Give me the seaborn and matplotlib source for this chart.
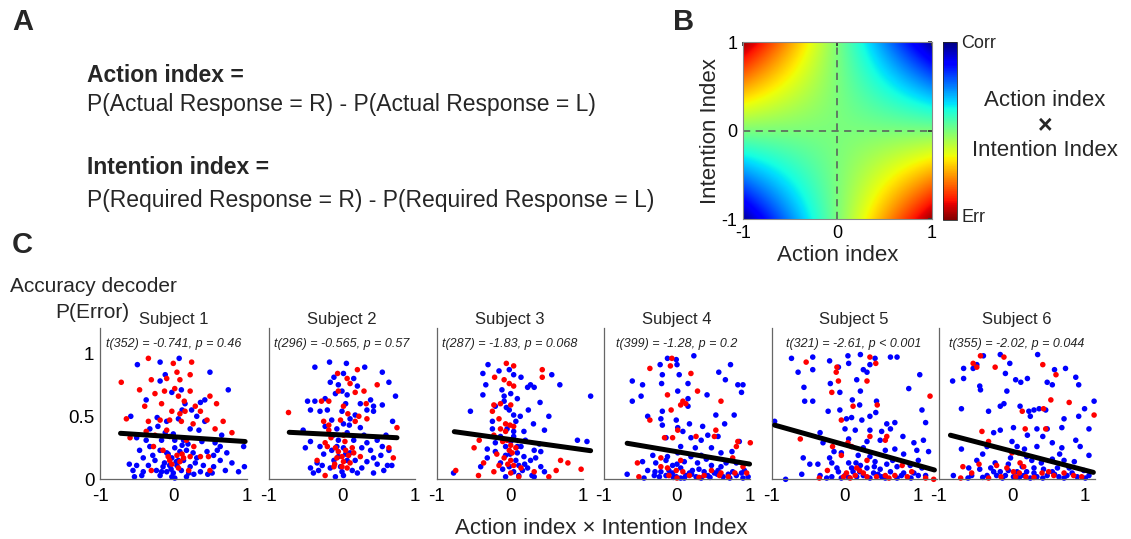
import numpy as np
import pandas as pd
import matplotlib
matplotlib.use('Agg')
import matplotlib.pyplot as plt
import seaborn as sns

W, H = 1131, 539

# --- panel C data: (action x intention, P(error)) ---
S1_BLUE = [(-0.49,0.91),(-0.18,0.93),(0.08,0.96),(-0.11,0.83),(0.50,0.85),(0.75,0.71),(-0.18,0.78),(-0.02,0.69),
           (0.11,0.71),(-0.37,0.63),(0.16,0.60),(0.37,0.61),(0.43,0.63),(0.25,0.55),(-0.58,0.50),(-0.21,0.42),
           (-0.09,0.46),(0.07,0.48),(0.32,0.50),(0.43,0.46),(-0.32,0.40),(-0.50,0.33),(-0.37,0.31),(-0.16,0.31),
           (-0.05,0.34),(0.14,0.31),(0.39,0.30),(0.57,0.29),(0.64,0.26),(0.96,0.26),(-0.46,0.23),(-0.32,0.26),
           (-0.18,0.23),(-0.09,0.21),(0.02,0.25),(0.09,0.22),(0.18,0.23),(0.27,0.21),(0.46,0.22),(0.55,0.19),
           (0.73,0.21),(-0.41,0.17),(-0.25,0.15),(-0.02,0.17),(0.14,0.15),(0.32,0.17),(0.64,0.15),(0.80,0.13),
           (-0.50,0.11),(-0.34,0.11),(-0.14,0.10),(0.05,0.11),(0.23,0.10),(0.41,0.11),(0.55,0.10),(0.97,0.10),
           (-0.55,0.07),(-0.41,0.06),(-0.23,0.07),(-0.09,0.06),(0.0,0.05),(0.11,0.07),(0.21,0.05),(0.37,0.06),
           (0.53,0.05),(0.71,0.07),(0.89,0.06),(-0.53,0.02),(-0.18,0.03),(-0.02,0.02),(0.02,0.01),(0.18,0.02),
           (-0.16,0.06),(-0.05,0.11),(0.07,0.15),(0.02,0.31),(-0.11,0.37),(0.23,0.40),
           (-0.03,0.08),(0.04,0.14),(-0.07,0.20),(0.12,0.27),(0.30,0.13),(-0.28,0.19),(0.20,0.28),(0.60,0.23),
           (-0.43,0.03),(0.47,0.04),(0.28,0.04),(-0.12,0.13),(0.0,0.36),(-0.22,0.49),(0.12,0.55),(0.35,0.39),
           (0.66,0.35),(-0.60,0.12)]
S1_RED = [(-0.34,0.96),(-0.71,0.77),(0.0,0.92),(0.25,0.93),(0.05,0.85),(-0.09,0.80),(0.09,0.79),(-0.30,0.79),
          (0.23,0.83),(-0.46,0.71),(-0.25,0.68),(0.02,0.72),(0.07,0.66),(0.23,0.70),(0.50,0.66),(0.59,0.60),
          (-0.39,0.58),(-0.16,0.60),(-0.02,0.54),(0.09,0.52),(0.16,0.54),(0.37,0.54),(0.46,0.47),(0.68,0.46),
          (-0.64,0.48),(-0.34,0.46),(-0.05,0.47),(0.11,0.46),(0.27,0.44),(0.57,0.40),(0.80,0.37),(-0.37,0.38),
          (-0.25,0.35),(-0.09,0.39),(-0.59,0.33),(0.18,0.31),(-0.27,0.26),(-0.07,0.18),(0.05,0.19),(0.14,0.17),
          (-0.05,0.15),(0.09,0.14),(0.23,0.18),(0.48,0.18),(-0.14,0.23),(0.37,0.18),(-0.30,0.07),(0.21,0.07),
          (0.07,0.09),(0.50,0.07),(-0.02,0.12),(0.12,0.20),(0.28,0.26),(-0.18,0.47),(0.30,0.58),(-0.12,0.70),
          (0.15,0.62)]

S2_BLUE = [(-0.17,0.93),(-0.37,0.89),(0.06,0.92),(0.31,0.89),(0.55,0.85),(0.02,0.84),(-0.11,0.81),(0.16,0.80),
           (-0.16,0.77),(-0.05,0.75),(0.21,0.74),(0.64,0.77),(0.73,0.66),(-0.47,0.62),(-0.37,0.62),(-0.23,0.64),
           (-0.09,0.68),(0.07,0.67),(0.05,0.60),(0.39,0.63),(0.43,0.58),(0.55,0.59),(-0.43,0.55),(-0.30,0.54),
           (0.0,0.54),(0.18,0.51),(0.34,0.55),(0.43,0.54),(-0.14,0.47),(0.11,0.48),(0.69,0.46),(-0.53,0.39),
           (-0.23,0.42),(-0.07,0.40),(0.02,0.44),(0.25,0.41),(0.07,0.37),(0.16,0.31),(-0.05,0.31),(0.34,0.29),
           (0.48,0.31),(0.55,0.26),(-0.43,0.30),(-0.30,0.26),(-0.14,0.23),(-0.07,0.26),(0.02,0.25),(0.27,0.25),
           (0.39,0.23),(0.64,0.23),(0.53,0.19),(-0.34,0.13),(-0.27,0.11),(-0.11,0.15),(-0.05,0.18),(0.18,0.15),
           (0.34,0.14),(0.43,0.17),(0.62,0.11),(0.68,0.11),(-0.43,0.09),(-0.32,0.07),(-0.16,0.09),(0.0,0.06),
           (0.14,0.07),(0.27,0.09),(0.43,0.05),(0.57,0.07),(-0.09,0.02),(0.02,0.03),(0.21,0.05),(-0.39,0.05),
           (0.07,0.15),(0.11,0.21),(-0.02,0.10),(0.05,0.20),(-0.12,0.35),(0.10,0.43),(0.30,0.35),(-0.25,0.20),
           (0.48,0.12),(0.60,0.35),(-0.50,0.25),(0.25,0.60),(0.0,0.70),(-0.20,0.55)]
S2_RED = [(-0.06,0.84),(0.21,0.87),(0.07,0.80),(-0.05,0.70),(0.11,0.76),(0.18,0.69),(0.30,0.70),(0.48,0.75),
          (-0.28,0.62),(-0.18,0.62),(0.33,0.60),(-0.73,0.53),(0.02,0.58),(0.23,0.50),(0.34,0.48),(-0.25,0.46),
          (-0.18,0.43),(-0.02,0.47),(0.18,0.46),(0.75,0.41),(-0.18,0.39),(0.02,0.35),(-0.23,0.29),(-0.20,0.26),
          (-0.09,0.25),(-0.05,0.22),(0.05,0.23),(0.09,0.19),(0.0,0.18),(-0.07,0.17),(0.16,0.21),(0.02,0.14),
          (0.11,0.13),(0.64,0.25),(0.70,0.17),(-0.11,0.10),(-0.23,0.03),(0.07,0.09),(0.25,0.18),(-0.34,0.15),
          (0.0,0.10),(0.04,0.30),(-0.10,0.12),(0.14,0.25),(0.08,0.52),(-0.15,0.33)]

S3_BLUE = [(-0.30,0.91),(-0.37,0.84),(-0.15,0.86),(-0.01,0.87),(0.05,0.83),(0.15,0.81),(0.28,0.75),(0.33,0.73),
           (0.24,0.73),(0.57,0.83),(0.68,0.75),(1.10,0.66),(-0.33,0.75),(-0.37,0.67),(-0.11,0.71),(-0.08,0.66),
           (0.01,0.68),(0.10,0.64),(-0.08,0.62),(0.41,0.61),(-0.54,0.54),(-0.20,0.58),(-0.01,0.55),(0.05,0.51),
           (-0.24,0.46),(0.08,0.46),(0.32,0.44),(0.53,0.50),(-0.24,0.40),(-0.04,0.40),(0.19,0.38),(0.47,0.39),
           (-0.13,0.34),(0.05,0.34),(0.21,0.31),(0.92,0.31),(1.05,0.30),(-0.20,0.29),(-0.06,0.26),(0.15,0.26),
           (0.33,0.23),(0.42,0.22),(-0.31,0.24),(-0.31,0.17),(-0.06,0.19),(0.08,0.15),(0.19,0.18),(0.28,0.15),
           (-0.13,0.13),(-0.01,0.10),(0.12,0.11),(0.24,0.09),(0.42,0.10),(0.05,0.06),(0.17,0.07),(0.47,0.06),
           (-0.06,0.02),(0.12,0.03),(-0.77,0.05),(0.33,0.02),(0.10,0.21),(0.01,0.30),(0.0,0.20),(0.10,0.26),
           (-0.10,0.08),(0.20,0.12),(0.35,0.17),(-0.20,0.22),(0.05,0.38),(0.14,0.50),(-0.05,0.57),(0.25,0.55),
           (0.30,0.03),(0.40,0.28),(-0.40,0.10)]
S3_RED = [(-0.05,0.92),(0.05,0.90),(0.44,0.87),(-0.08,0.79),(-0.21,0.81),(-0.01,0.76),(0.05,0.74),(0.44,0.81),
          (-0.22,0.59),(-0.13,0.60),(0.01,0.59),(-0.24,0.54),(-0.15,0.48),(-0.06,0.44),(-0.13,0.40),(-0.06,0.38),
          (0.05,0.42),(-0.42,0.31),(-0.22,0.35),(-0.04,0.31),(0.01,0.27),(-0.49,0.25),(-0.01,0.23),(0.03,0.21),
          (-0.08,0.17),(0.01,0.15),(-0.15,0.11),(0.05,0.11),(0.15,0.09),(-0.36,0.13),(0.69,0.15),(0.79,0.13),
          (0.63,0.07),(0.97,0.08),(-0.74,0.07),(-0.43,0.03),(-0.22,0.06),(0.01,0.05),(0.53,0.02),(0.33,0.06),
          (-0.03,0.12),(0.08,0.25),(-0.10,0.30),(0.00,0.43),(-0.18,0.20),(0.12,0.02)]

S4_BLUE = [(-0.13,0.96),(-0.01,0.95),(0.23,0.98),(-0.23,0.91),(0.0,0.91),(0.73,0.91),(-0.61,0.78),(-0.47,0.75),
           (-0.20,0.83),(0.03,0.83),(-0.21,0.76),(0.15,0.76),(0.57,0.85),(0.66,0.79),(0.83,0.75),(0.90,0.75),
           (0.88,0.69),(-0.61,0.62),(-0.49,0.66),(0.01,0.70),(0.15,0.64),(0.41,0.67),(0.15,0.58),(-0.20,0.54),
           (0.53,0.51),(0.78,0.51),(-0.40,0.50),(-0.22,0.48),(-0.01,0.47),(0.17,0.44),(0.35,0.42),(0.65,0.44),
           (-0.20,0.43),(0.01,0.41),(0.08,0.38),(0.42,0.35),(0.56,0.34),(-0.15,0.33),(0.19,0.33),(0.33,0.31),
           (0.85,0.30),(0.05,0.26),(0.47,0.25),(-0.33,0.19),(-0.13,0.18),(0.01,0.21),(0.19,0.18),(0.33,0.19),
           (0.60,0.21),(-0.47,0.14),(-0.29,0.13),(-0.06,0.11),(0.10,0.14),(0.28,0.13),(0.47,0.11),(0.67,0.13),
           (0.81,0.13),(-0.40,0.07),(-0.22,0.06),(-0.11,0.07),(0.05,0.09),(0.21,0.07),(0.37,0.06),(0.56,0.07),
           (0.76,0.06),(0.92,0.07),(-0.68,0.04),(-0.31,0.03),(-0.15,0.03),(-0.01,0.02),(0.12,0.03),(0.26,0.02),
           (0.42,0.03),(0.63,0.02),(0.81,0.03),(0.97,0.02),(-0.24,0.02),(0.05,0.01),(0.33,0.01),(0.72,0.01),
           (-0.06,0.05),(0.17,0.05),(0.51,0.05),(0.88,0.05),(-0.45,0.01),(-0.05,0.015),(0.10,0.01),(0.20,0.04),
           (0.45,0.015),(0.55,0.04),(0.70,0.04),(0.90,0.01),(-0.30,0.06),(0.0,0.12),(0.30,0.08),(0.60,0.10),
           (-0.15,0.15),(0.40,0.16),(0.75,0.22),(0.25,0.25)]
S4_RED = [(-0.07,0.96),(-0.37,0.88),(-0.09,0.90),(0.19,0.84),(0.28,0.70),(-0.13,0.67),(0.08,0.62),(0.05,0.59),
          (0.12,0.60),(-0.08,0.55),(0.60,0.62),(-0.37,0.47),(0.01,0.39),(-0.17,0.33),(-0.06,0.33),(0.26,0.34),
          (0.53,0.39),(0.51,0.34),(0.83,0.30),(1.0,0.29),(0.81,0.26),(-0.22,0.17),(-0.54,0.13),(0.76,0.17),
          (-0.13,0.09),(-0.01,0.07),(0.08,0.06),(0.47,0.07),(0.60,0.05),(0.79,0.05),(0.95,0.05),(-0.52,0.02),
          (-0.11,0.03),(0.37,0.03),(0.58,0.03),(-0.22,0.10),(0.17,0.03),(0.0,0.01),(0.30,0.015),(0.70,0.02),
          (0.90,0.10),(0.05,0.15)]

S5_BLUE = [(-0.73,0.96),(-0.44,0.97),(-0.64,0.85),(-0.44,0.87),(-0.21,0.94),(-0.09,0.89),(0.04,0.98),(0.21,0.99),
           (0.34,0.91),(0.41,0.96),(0.62,0.97),(0.71,0.97),(0.25,0.87),(0.30,0.85),(0.16,0.79),(0.05,0.92),
           (-0.20,0.76),(-0.07,0.69),(-0.56,0.73),(-0.55,0.62),(-0.44,0.62),(0.10,0.63),(0.20,0.59),(0.21,0.70),
           (0.43,0.62),(0.87,0.72),(1.02,0.83),(1.05,0.55),(-0.23,0.54),(-0.07,0.55),(0.02,0.48),(0.09,0.49),
           (0.23,0.47),(0.34,0.50),(0.42,0.53),(0.57,0.44),(0.68,0.45),(1.10,0.45),(-0.96,0.46),(0.0,0.40),
           (0.14,0.39),(0.34,0.39),(0.50,0.38),(0.62,0.40),(-0.34,0.37),(-0.30,0.29),(0.05,0.32),(0.30,0.30),
           (0.48,0.31),(0.79,0.34),(0.94,0.29),(1.07,0.31),(0.55,0.23),(0.68,0.24),(0.98,0.23),(1.14,0.22),
           (-0.57,0.17),(-0.21,0.17),(-0.05,0.21),(0.18,0.19),(0.34,0.18),(-0.48,0.12),(-0.37,0.12),(-0.18,0.13),
           (0.05,0.13),(0.21,0.11),(0.41,0.14),(0.57,0.12),(0.71,0.10),(0.89,0.11),(-0.59,0.04),(-0.34,0.03),
           (-0.18,0.02),(-0.09,0.06),(0.0,0.03),(0.11,0.06),(0.25,0.03),(0.39,0.05),(0.50,0.02),(0.62,0.06),
           (0.77,0.03),(0.94,0.05),(1.10,0.03),(-0.81,0.0),(-0.11,0.09),(0.09,0.09),(0.30,0.09),(0.48,0.08),
           (1.05,0.09),(0.16,0.02),(0.34,0.01),(0.71,0.01),(-0.25,0.01),(-0.05,0.01),(0.05,0.015),(0.20,0.06),
           (0.45,0.04),(0.55,0.01),(0.80,0.05),(0.90,0.01),(1.0,0.03),(0.15,0.13),(0.40,0.10),(0.65,0.15),
           (-0.15,0.22),(0.80,0.20),(0.25,0.25),(1.0,0.15)]
S5_RED = [(-0.53,0.93),(-0.11,0.89),(-0.12,0.85),(0.34,0.97),(0.42,0.92),(-0.09,0.78),(0.30,0.78),(-0.18,0.69),
          (0.11,0.58),(0.44,0.59),(1.16,0.66),(-0.05,0.47),(0.34,0.34),(0.55,0.31),(0.57,0.34),(-0.61,0.32),
          (-0.17,0.26),(0.04,0.29),(0.09,0.26),(-0.05,0.19),(0.30,0.15),(0.78,0.11),(-0.24,0.07),(0.02,0.05),
          (0.14,0.03),(0.25,0.05),(0.55,0.03),(0.68,0.03),(0.91,0.06),(1.21,0.0),(-0.35,0.01),(0.43,0.02),
          (0.16,0.09),(-0.02,0.02),(0.07,0.01),(0.30,0.02),(0.60,0.01),(0.85,0.02),(1.10,0.01),(0.20,0.07)]

S6_BLUE = [(-0.81,0.78),(-0.66,0.80),(-0.66,0.88),(-0.53,0.88),(-0.48,0.91),(-0.39,0.98),(-0.16,0.99),(-0.03,0.92),
           (-0.09,0.84),(-0.44,0.74),(-0.43,0.71),(-0.07,0.70),(0.05,0.79),(0.12,0.77),(0.21,0.80),(0.35,0.99),
           (0.48,0.77),(0.55,0.75),(0.58,0.87),(0.73,0.88),(0.87,0.81),(0.91,0.75),(1.12,0.62),(-0.69,0.56),
           (-0.32,0.54),(-0.16,0.58),(-0.11,0.60),(0.11,0.58),(0.23,0.54),(0.30,0.55),(0.37,0.56),(0.46,0.55),
           (0.25,0.50),(0.71,0.48),(0.91,0.50),(0.99,0.56),(-0.25,0.37),(-0.16,0.39),(0.02,0.41),(0.34,0.40),
           (0.48,0.40),(0.21,0.35),(0.42,0.34),(0.68,0.41),(1.05,0.40),(-0.69,0.24),(-0.34,0.26),(0.07,0.26),
           (0.17,0.24),(0.34,0.26),(0.55,0.29),(0.68,0.25),(0.87,0.31),(0.93,0.26),(1.05,0.19),(-0.48,0.15),
           (-0.23,0.13),(-0.02,0.17),(0.27,0.15),(0.55,0.16),(0.71,0.15),(-0.59,0.09),(-0.44,0.08),(-0.29,0.09),
           (-0.16,0.06),(-0.05,0.07),(0.14,0.10),(0.30,0.09),(0.43,0.08),(0.62,0.09),(0.78,0.09),(0.98,0.07),
           (-0.80,0.03),(-0.55,0.03),(-0.34,0.03),(-0.21,0.03),(-0.09,0.03),(0.02,0.02),(0.16,0.03),(0.34,0.02),
           (0.48,0.03),(0.64,0.02),(0.75,0.03),(0.89,0.02),(1.05,0.03),(0.07,0.06),(0.20,0.06),(0.55,0.06),
           (-0.13,0.01),(0.25,0.01),(0.71,0.01),(-0.60,0.01),(-0.40,0.015),(-0.25,0.06),(0.10,0.015),(0.30,0.05),
           (0.42,0.01),(0.58,0.04),(0.82,0.05),(1.0,0.01),(-0.05,0.12),(0.20,0.18),(0.40,0.13),(0.65,0.20),
           (0.85,0.14),(-0.40,0.20),(0.0,0.30)]
S6_RED = [(-0.43,0.98),(-0.53,0.92),(-0.48,0.89),(-0.23,0.89),(-0.11,0.97),(0.42,0.91),(0.60,0.83),(0.53,0.63),
          (0.78,0.61),(1.12,0.51),(0.14,0.54),(0.43,0.56),(-0.41,0.38),(0.18,0.40),(0.46,0.40),(-0.32,0.30),
          (-0.67,0.10),(-0.55,0.05),(-0.21,0.11),(-0.07,0.09),(0.02,0.06),(0.11,0.13),(0.0,0.21),(0.09,0.21),
          (0.16,0.10),(0.41,0.05),(0.57,0.03),(0.71,0.05),(0.84,0.03),(-0.70,0.01),(-0.32,0.01),(0.19,0.02),
          (0.05,0.02),(-0.15,0.02),(0.10,0.05),(0.30,0.015),(0.50,0.06),(0.95,0.02),(-0.45,0.12)]

SUBJECTS = ['Subject 1', 'Subject 2', 'Subject 3', 'Subject 4', 'Subject 5', 'Subject 6']
STATS = ['t(352) = -0.741, p = 0.46', 't(296) = -0.565, p = 0.57', 't(287) = -1.83, p = 0.068',
         't(399) = -1.28, p = 0.2', 't(321) = -2.61, p < 0.001', 't(355) = -2.02, p = 0.044']
BLUE_PTS = [S1_BLUE, S2_BLUE, S3_BLUE, S4_BLUE, S5_BLUE, S6_BLUE]
RED_PTS = [S1_RED, S2_RED, S3_RED, S4_RED, S5_RED, S6_RED]
# regression line end points
FIT_X0 = [-0.72, -0.72, -0.76, -0.68, -0.96, -0.84]
FIT_Y0 = [0.365, 0.373, 0.378, 0.286, 0.43, 0.35]
FIT_X1 = [0.98, 0.75, 1.10, 0.99, 1.22, 1.11]
FIT_Y1 = [0.30, 0.33, 0.227, 0.121, 0.074, 0.055]
X_MAX = [1.0, 1.0, 1.0, 1.0, 1.25, 1.13]
DATA0_PX = [173.3, 342, 510, 677, 845, 1012]  # pixel of x=0 in each panel
UNIT_PX = 73.3

# panel B: action and intention index axes
ACTION_IDX = np.linspace(-1, 1, 301)
INTENTION_IDX = np.linspace(-1, 1, 301)

sns.set_theme(style='white')
plt.rcParams['font.family'] = ['Liberation Sans', 'DejaVu Sans']
plt.rcParams['axes.unicode_minus'] = False

fig = plt.figure(figsize=(W / 100, H / 100), dpi=100)


def fx(px):
    return px / W


def fy(py):
    return 1 - py / H


# ---- panel labels / panel A text ----
fig.text(fx(12), fy(22), 'A', fontsize=21, fontweight='bold', va='center')
fig.text(fx(673), fy(22), 'B', fontsize=21, fontweight='bold', va='center')
fig.text(fx(12), fy(245), 'C', fontsize=21, fontweight='bold', va='center')
fig.text(fx(87), fy(75), 'Action index =', fontsize=16.5, fontweight='bold', va='center')
fig.text(fx(87), fy(104), 'P(Actual Response = R) - P(Actual Response = L)', fontsize=16.5, va='center')
fig.text(fx(87), fy(168), 'Intention index =', fontsize=16.5, fontweight='bold', va='center')
fig.text(fx(87), fy(200), 'P(Required Response = R) - P(Required Response = L)', fontsize=16.5, va='center')

# ---- panel B heatmap ----
axb = fig.add_axes([fx(742.7), fy(219.3), 189 / W, 177 / H])
prod = np.outer(INTENTION_IDX, ACTION_IDX)
im = axb.imshow(prod, extent=[-1, 1, -1, 1], origin='lower', cmap='jet_r',
                vmin=-1.05, vmax=1.05, aspect='auto', interpolation='bilinear')
axb.axvline(0, color='#5d7260', linestyle='--', linewidth=1.3, dashes=(4, 3))
axb.axhline(0, color='#5d7260', linestyle='--', linewidth=1.3, dashes=(4, 3))
axb.set_xticks([-1, 0, 1])
axb.set_yticks([-1, 0, 1])
axb.tick_params(direction='in', length=3, labelsize=13, colors='#333333', labelcolor='black',
                top=True, right=True)
axb.tick_params(axis='x', pad=4)
axb.tick_params(axis='y', pad=4)
axb.set_xlabel('Action index', fontsize=16, labelpad=2)
axb.set_ylabel('Intention Index', fontsize=16, labelpad=0)
for sp in axb.spines.values():
    sp.set_color('#888888')
    sp.set_linewidth(0.8)

cax = fig.add_axes([fx(943.3), fy(220), 13.4 / W, 178 / H])
cb = fig.colorbar(im, cax=cax)
cb.set_ticks([])
cb.outline.set_linewidth(0.6)
fig.text(fx(961), fy(43), 'Corr', fontsize=13, va='center')
fig.text(fx(961), fy(218), 'Err', fontsize=13, va='center')
fig.text(fx(1045), fy(101), 'Action index', fontsize=16, ha='center', va='center')
fig.text(fx(1045), fy(126), '\u00d7', fontsize=18, fontweight='bold', ha='center', va='center')
fig.text(fx(1045), fy(151), 'Intention Index', fontsize=16, ha='center', va='center')

# ---- panel C scatter panels ----
fig.text(fx(10), fy(286), 'Accuracy decoder', fontsize=15, va='center')
fig.text(fx(129), fy(313), 'P(Error)', fontsize=15, va='center', ha='right')

y_bottom, y_top = 479.3, 328.1
for i in range(6):
    left = DATA0_PX[i] - UNIT_PX
    width = UNIT_PX * (1 + X_MAX[i])
    ax = fig.add_axes([fx(left), fy(y_bottom), width / W, (y_bottom - y_top) / H])
    df = pd.DataFrame(BLUE_PTS[i] + RED_PTS[i], columns=['ai', 'perr'])
    df['trial'] = ['Correct'] * len(BLUE_PTS[i]) + ['Error'] * len(RED_PTS[i])
    sns.scatterplot(data=df, x='ai', y='perr', hue='trial', palette={'Correct': '#0000ff', 'Error': '#ff0000'},
                    s=16, linewidth=0, legend=False, ax=ax, clip_on=False, zorder=2)
    sns.lineplot(x=[FIT_X0[i], FIT_X1[i]], y=[FIT_Y0[i], FIT_Y1[i]], color='black', linewidth=3.6,
                 ax=ax, clip_on=False, zorder=3)
    ax.set_xlim(-1, X_MAX[i])
    ax.set_ylim(0, 1.2)
    ax.set_xticks([-1, 0, 1])
    ax.set_xticklabels(['-1', '0', '1'])
    ax.set_yticks([0, 0.5, 1])
    if i == 0:
        ax.set_yticklabels(['0', '0.5', '1'])
    else:
        ax.set_yticklabels([])
    ax.tick_params(direction='in', length=3, labelsize=13.5, colors='#666666', labelcolor='black')
    ax.tick_params(axis='x', pad=6)
    ax.tick_params(axis='y', pad=4)
    ax.set_xlabel('')
    ax.set_ylabel('')
    sns.despine(ax=ax)
    for sp in ['left', 'bottom']:
        ax.spines[sp].set_color('#666666')
        ax.spines[sp].set_linewidth(0.9)
    ax.text(0.5, 1.06, SUBJECTS[i], transform=ax.transAxes, ha='center', va='center', fontsize=12)
    ax.text(0.5, 0.895, STATS[i], transform=ax.transAxes, ha='center', va='center', fontsize=9,
            style='italic', color='#222222')

fig.text(fx(601), fy(528), 'Action index \u00d7 Intention Index', fontsize=16, ha='center', va='center')

fig.savefig('out.png', dpi=100)
